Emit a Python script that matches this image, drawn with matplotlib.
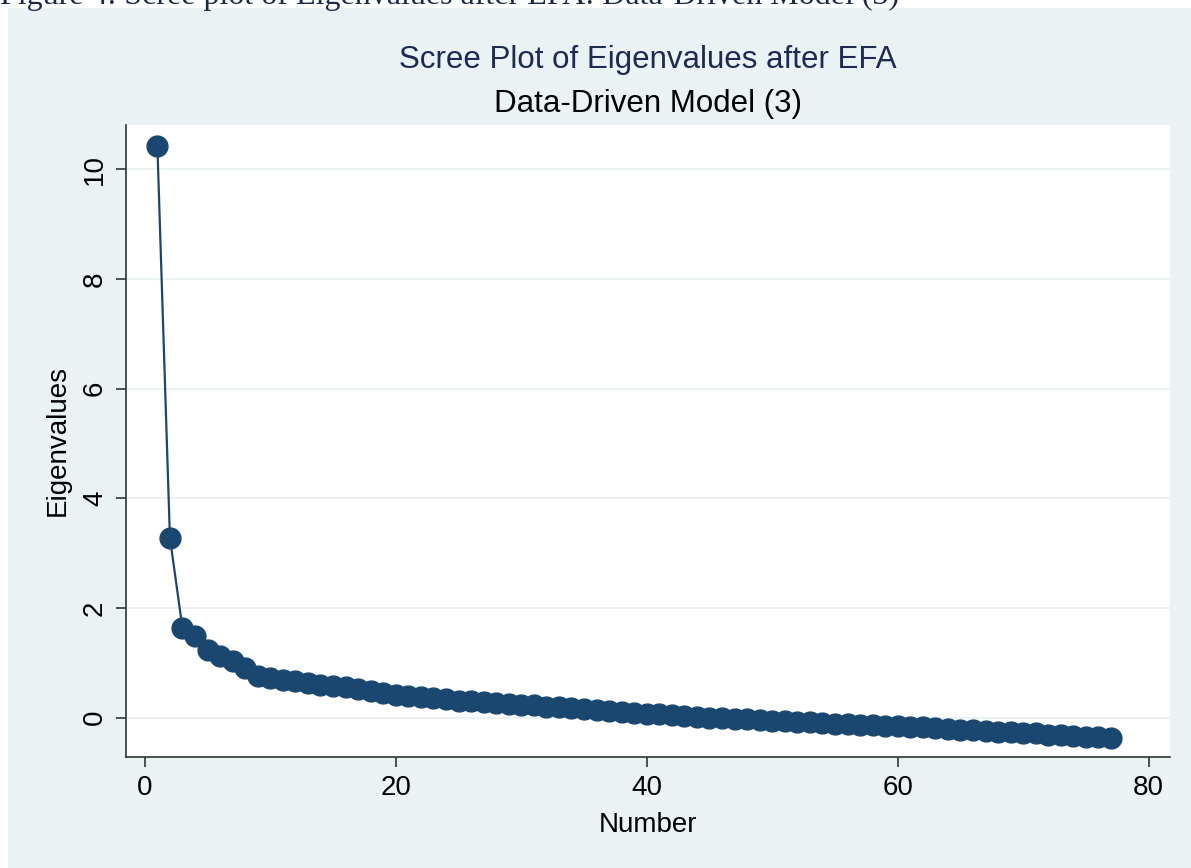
import matplotlib.pyplot as plt
import matplotlib.patches as mpatches
import numpy as np

# eigenvalues
number = np.arange(1, 78)
eigenvalues = [
    10.43, 3.28, 1.63, 1.48, 1.23, 1.12, 1.03, 0.90, 0.75, 0.73,
    0.69, 0.66, 0.63, 0.60, 0.57, 0.55, 0.52, 0.49, 0.45, 0.41,
    0.39, 0.37, 0.35, 0.33, 0.31, 0.30, 0.28, 0.26, 0.25, 0.23,
    0.22, 0.20, 0.19, 0.18, 0.16, 0.14, 0.12, 0.11, 0.09, 0.07,
    0.06, 0.05, 0.03, 0.01, 0.00, -0.01, -0.02, -0.03, -0.05, -0.06,
    -0.07, -0.08, -0.09, -0.10, -0.11, -0.12, -0.13, -0.14, -0.15, -0.16,
    -0.17, -0.18, -0.19, -0.21, -0.22, -0.23, -0.24, -0.26, -0.27, -0.28,
    -0.29, -0.31, -0.32, -0.33, -0.35, -0.36, -0.38,
]
xticks = [0, 20, 40, 60, 80]
yticks = [0, 2, 4, 6, 8, 10]

W, H = 1191, 868
bg = '#eaf2f3'
navy = '#1a476f'

plt.rcParams['font.family'] = ['Liberation Sans', 'DejaVu Sans']

fig = plt.figure(figsize=(W / 100, H / 100), dpi=100, facecolor='white')

# stata-like outer background, leaving a thin white strip top/left
fig.patches.append(mpatches.Rectangle((8 / W, 0), 1, 1 - 8 / H,
                                      transform=fig.transFigure,
                                      facecolor=bg, edgecolor='none', zorder=-5))

# caption from the document, mostly cut off at the top
fig.text(0.0, 1 - 4 / H, 'Figure 4: Scree plot of Eigenvalues after EFA: Data-Driven Model (3)',
         family='Liberation Serif', fontsize=23, color='#1c2a4a', va='baseline', ha='left')

ax = fig.add_axes([126 / W, 1 - 757 / H, (1170 - 126) / W, (757 - 125) / H])
ax.set_facecolor('white')

ax.plot(number, eigenvalues, '-o', color=navy, lw=1.6, markersize=15,
        markeredgecolor=navy, zorder=3)

ax.set_xlim(-1.5, 81.7)
ax.set_ylim(-0.72, 10.81)
ax.set_xticks(xticks)
ax.set_yticks(yticks)
ax.set_yticklabels([str(t) for t in yticks], rotation=90, va='center')
ax.grid(axis='y', color=bg, lw=1.5, zorder=0)
ax.set_axisbelow(True)

for side in ['top', 'right']:
    ax.spines[side].set_visible(False)
for side in ['left', 'bottom']:
    ax.spines[side].set_color('#333333')
    ax.spines[side].set_linewidth(1.2)
ax.tick_params(length=7, width=1.2, color='#333333', labelsize=20, labelcolor='black', pad=6)

ax.set_xlabel('Number', fontsize=20, labelpad=8)
ax.set_ylabel('Eigenvalues', fontsize=20, labelpad=8)

fig.text(648 / W, 1 - 60 / H, 'Scree Plot of Eigenvalues after EFA', ha='center', va='center',
         fontsize=22.5, color='#1c2a54')
fig.text(648 / W, 1 - 104 / H, 'Data-Driven Model (3)', ha='center', va='center',
         fontsize=22.5, color='black')

fig.savefig('out.png', dpi=100, facecolor=fig.get_facecolor())
